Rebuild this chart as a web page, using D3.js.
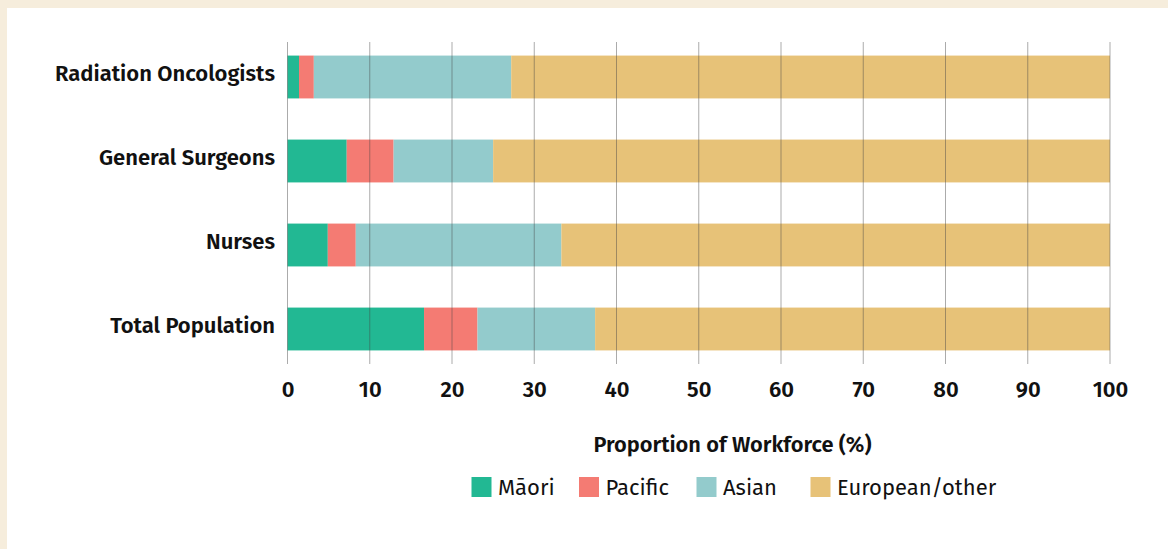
<!DOCTYPE html>
<html>
<head>
<meta charset="utf-8">
<script src="https://cdn.jsdelivr.net/npm/d3@7"></script>
<style>
  body { margin: 0; background: #f6eddc; }
  .chart-container { position: absolute; left: 7px; top: 8px; width: 1161px; height: 541px; background: #fff; }
  text { font-family: "Fira Sans", Roboto, "Noto Sans", sans-serif; fill: #111; }
</style>
</head>
<body>
<div class="chart-container"></div>
<script>
var groups = ['Radiation Oncologists', 'General Surgeons', 'Nurses', 'Total Population'];
var ethnicities = ['Māori', 'Pacific', 'Asian', 'European/other'];
var maori    = [1.4, 7.2, 4.9, 16.6];
var pacific  = [1.8, 5.7, 3.4, 6.5];
var asian    = [24.0, 12.1, 25.0, 14.3];
var european = [72.8, 75.0, 66.7, 62.6];
var xTicks = [0, 10, 20, 30, 40, 50, 60, 70, 80, 90, 100];
var colours = ['#22b893', '#f47b73', '#93cbcc', '#e7c278'];

// page offset of the white panel
var ox = 7, oy = 8;

var svg = d3.select('.chart-container').append('svg')
    .attr('width', 1161)
    .attr('height', 541);

var g = svg.append('g').attr('transform', 'translate(' + (-ox) + ',' + (-oy) + ')');

var x = d3.scaleLinear().domain([0, 100]).range([287.5, 1110]);
var y = d3.scaleBand().domain(groups).range([35, 371]).paddingInner(0.49).paddingOuter(0.245);

var table = groups.map(function(gr, i) {
    return { group: gr, 'Māori': maori[i], 'Pacific': pacific[i], 'Asian': asian[i], 'European/other': european[i] };
});
var stack = d3.stack().keys(ethnicities)(table);
var colour = d3.scaleOrdinal().domain(ethnicities).range(colours);

g.selectAll('.series')
    .data(stack)
    .enter().append('g')
        .attr('class', 'series')
        .style('fill', function(d) { return colour(d.key); })
    .selectAll('rect')
    .data(function(d) { return d; })
    .enter().append('rect')
        .attr('x', function(d) { return x(d[0]); })
        .attr('width', function(d) { return x(d[1]) - x(d[0]); })
        .attr('y', function(d) { return y(d.data.group); })
        .attr('height', y.bandwidth());

// gridlines over bars
g.selectAll('.grid')
    .data(xTicks)
    .enter().append('line')
        .attr('class', 'grid')
        .attr('x1', function(d) { return x(d); })
        .attr('x2', function(d) { return x(d); })
        .attr('y1', 42)
        .attr('y2', 364)
        .attr('stroke', '#444')
        .attr('stroke-opacity', 0.45)
        .attr('stroke-width', 1);

var xAxis = d3.axisBottom(x).tickValues(xTicks).tickSize(0).tickPadding(0);
g.append('g')
    .attr('transform', 'translate(0,397)')
    .call(xAxis)
    .call(function(a) {
        a.select('.domain').remove();
        a.selectAll('.tick text')
            .attr('dy', 0)
            .style('font-size', '22px')
            .style('font-weight', '600')
            .style('fill', '#111')
            .style('font-family', '"Fira Sans", Roboto, "Noto Sans", sans-serif');
    });

g.selectAll('.cat')
    .data(groups)
    .enter().append('text')
        .attr('class', 'cat')
        .attr('x', 275)
        .attr('y', function(d) { return y(d) + y.bandwidth() / 2; })
        .attr('dy', '0.2em')
        .style('text-anchor', 'end')
        .style('font-size', '22px')
        .style('font-weight', '600')
        .text(function(d) { return d; });

g.append('text')
    .attr('x', 732.5)
    .attr('y', 451.5)
    .style('text-anchor', 'middle')
    .style('font-size', '21.8px')
    .style('font-weight', '600')
    .text('Proportion of Workforce (%)');

var legendX = [471.5, 579, 696.5, 810.5];
var legend = g.selectAll('.legend')
    .data(ethnicities)
    .enter().append('g')
        .attr('class', 'legend')
        .attr('transform', function(d, i) { return 'translate(' + legendX[i] + ',477)'; });

legend.append('rect')
    .attr('width', 20)
    .attr('height', 20)
    .style('fill', colour);

legend.append('text')
    .attr('x', 26.5)
    .attr('y', 18)
    .style('font-size', '22px')
    .text(function(d) { return d; });
</script>
</body>
</html>
